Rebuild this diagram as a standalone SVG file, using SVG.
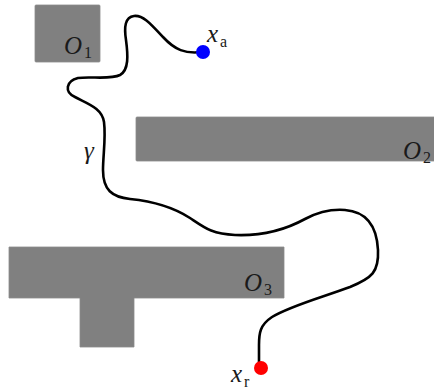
<svg xmlns="http://www.w3.org/2000/svg" width="434" height="391" viewBox="0 0 434 391">
<style>
.obs{fill:#808080;stroke:#8a8a8a;stroke-width:0.8}
.path{fill:none;stroke:#000;stroke-width:2.6;stroke-linecap:round;stroke-linejoin:round}
</style>
<rect width="434" height="391" fill="#fff"/>
<g id="O1">
<rect class="obs" x="35" y="5" width="65" height="57" rx="1"/>
<text font-family="Liberation Serif, serif" font-size="25" fill="#1a1a1a"><tspan font-style="italic" x="64" y="54">O</tspan><tspan font-size="16" x="84" y="58">1</tspan></text>
</g>
<g id="O2">
<rect class="obs" x="136" y="117" width="300" height="44" rx="1"/>
<text font-family="Liberation Serif, serif" font-size="25" fill="#1a1a1a"><tspan font-style="italic" x="403" y="159">O</tspan><tspan font-size="16" x="423" y="163">2</tspan></text>
</g>
<g id="O3">
<path class="obs" d="M9 247 H284 V298 H134 V347 H80 V298 H9 Z"/>
<text font-family="Liberation Serif, serif" font-size="25" fill="#1a1a1a"><tspan font-style="italic" x="244" y="291">O</tspan><tspan font-size="16" x="264" y="295">3</tspan></text>
</g>
<g id="connectors">
<path id="gamma" class="path" d="M202 52 C185 54,175 50,163 37 C150 23,143 15,134 16 C125 17,124 27,126 40 C128 55,129 70,120 75 C110 80,90 76,78 78 C66 81,64 92,75 97 C88 104,102 108,104 122 C106 138,103 155,103 170 C103 190,112 197,130 199 C150 201,170 205,190 218 C205 228,212 234,235 235 C260 236,285 230,305 219 C320 211,332 209,345 210 C370 212,377 230,378 250 C379 272,372 278,350 287 C320 298,290 306,272 317 C260 325,259 333,259 345 L259 362"/>
<text font-family="Liberation Serif, serif" font-size="25" font-style="italic" fill="#1a1a1a" x="84" y="159">γ</text>
</g>
<g id="xa">
<circle cx="203" cy="52" r="7" fill="#0000ff"/>
<text font-family="Liberation Serif, serif" font-size="25" fill="#1a1a1a"><tspan font-style="italic" x="207" y="42">x</tspan><tspan font-size="16" x="220" y="47">a</tspan></text>
</g>
<g id="xr">
<circle cx="261" cy="368" r="7" fill="#ff0000"/>
<text font-family="Liberation Serif, serif" font-size="25" fill="#1a1a1a"><tspan font-style="italic" x="231" y="382">x</tspan><tspan font-size="16" x="244" y="387">r</tspan></text>
</g>
</svg>
